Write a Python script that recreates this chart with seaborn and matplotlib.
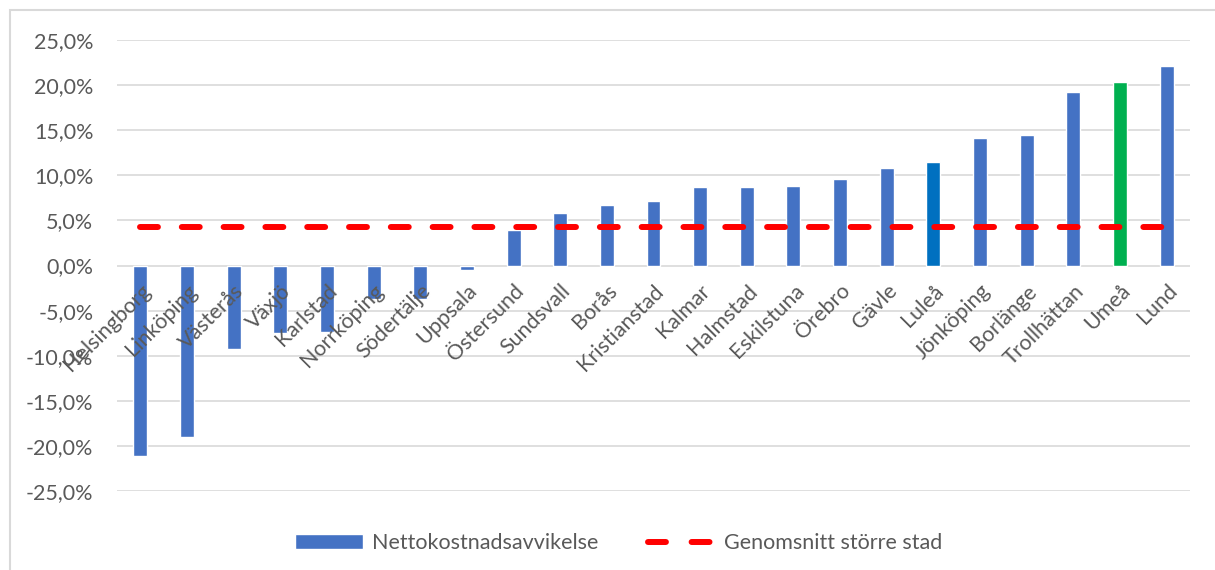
import matplotlib
matplotlib.use('Agg')
import matplotlib.pyplot as plt
import seaborn as sns
import numpy as np
from matplotlib.patches import Patch, Rectangle
from matplotlib.lines import Line2D

cities = ['Helsingborg', 'Linköping', 'Västerås', 'Växjö', 'Karlstad', 'Norrköping', 'Södertälje',
          'Uppsala', 'Östersund', 'Sundsvall', 'Borås', 'Kristianstad', 'Kalmar', 'Halmstad',
          'Eskilstuna', 'Örebro', 'Gävle', 'Luleå', 'Jönköping', 'Borlänge', 'Trollhättan', 'Umeå', 'Lund']
avvikelse = [-21.1, -19.0, -9.3, -7.5, -7.4, -3.7, -3.7, -0.5, 3.9, 5.8, 6.7, 7.1, 8.7, 8.7,
             8.8, 9.6, 10.8, 11.5, 14.1, 14.5, 19.2, 20.3, 22.1]
genomsnitt = 4.3
y_ticks = [-25, -20, -15, -10, -5, 0, 5, 10, 15, 20, 25]

blue = '#4472C4'
colors = [blue] * len(cities)
colors[cities.index('Luleå')] = '#0070C0'
colors[cities.index('Umeå')] = '#00B050'

sns.set_style('white')
plt.rcParams['font.family'] = ['Lato', 'DejaVu Sans']
text_col = '#595959'
fs = 15.5

fig = plt.figure(figsize=(12.15, 5.7), dpi=100)
ax = fig.add_axes([117 / 1215, 1 - 491 / 570, (1190 - 117) / 1215, (491 - 40) / 570])

# ram runt diagrammet
fig.patches.append(Rectangle((10 / 1215, -0.2), 1.2, 1.2 - 10 / 570, transform=fig.transFigure,
                             fill=False, edgecolor='#D9D9D9', linewidth=1.5))

sns.barplot(x=cities, y=avvikelse, hue=cities, palette=colors, legend=False, width=0.3,
            saturation=1, ax=ax, zorder=3)

x_pos = np.arange(len(cities))
sns.lineplot(x=x_pos, y=[genomsnitt] * len(cities), color='#FF0000', linewidth=4.3,
             dashes=False, ax=ax, zorder=4)
line = ax.lines[-1]
line.set_linestyle((0, (3, 4)))
line.set_dash_capstyle('round')

ax.set_ylim(-25, 25)
ax.set_xlim(-0.5, len(cities) - 0.5)
ax.set_yticks(y_ticks)
ax.set_yticklabels([f'{v:.1f}%'.replace('.', ',') for v in y_ticks], fontsize=fs, color=text_col)
ax.tick_params(axis='y', length=0, pad=17)
ax.grid(axis='y', color='#D9D9D9', linewidth=1.2, zorder=0)
ax.set_axisbelow(True)
for s in ax.spines.values():
    s.set_visible(False)

ax.set_xticks([])
ax.set_xlabel('')
for i, c in enumerate(cities):
    ax.annotate(c, xy=(i, 0), xytext=(0, -11), textcoords='offset points', ha='right', va='top',
                rotation=45, rotation_mode='anchor', fontsize=fs, color=text_col, zorder=5)

handles = [Patch(facecolor=blue, label='Nettokostnadsavvikelse'),
           Line2D([0], [0], color='#FF0000', linewidth=4.3, linestyle=(0, (3, 4.3)),
                  dash_capstyle='round', label='Genomsnitt större stad')]
fig.legend(handles=handles, loc='center', bbox_to_anchor=(619 / 1215, 1 - 543 / 570), ncol=2, frameon=False,
           fontsize=fs, labelcolor=text_col, handlelength=3.16, handleheight=0.65, columnspacing=2.3,
           handletextpad=0.4)

fig.savefig('out.png', dpi=100)
